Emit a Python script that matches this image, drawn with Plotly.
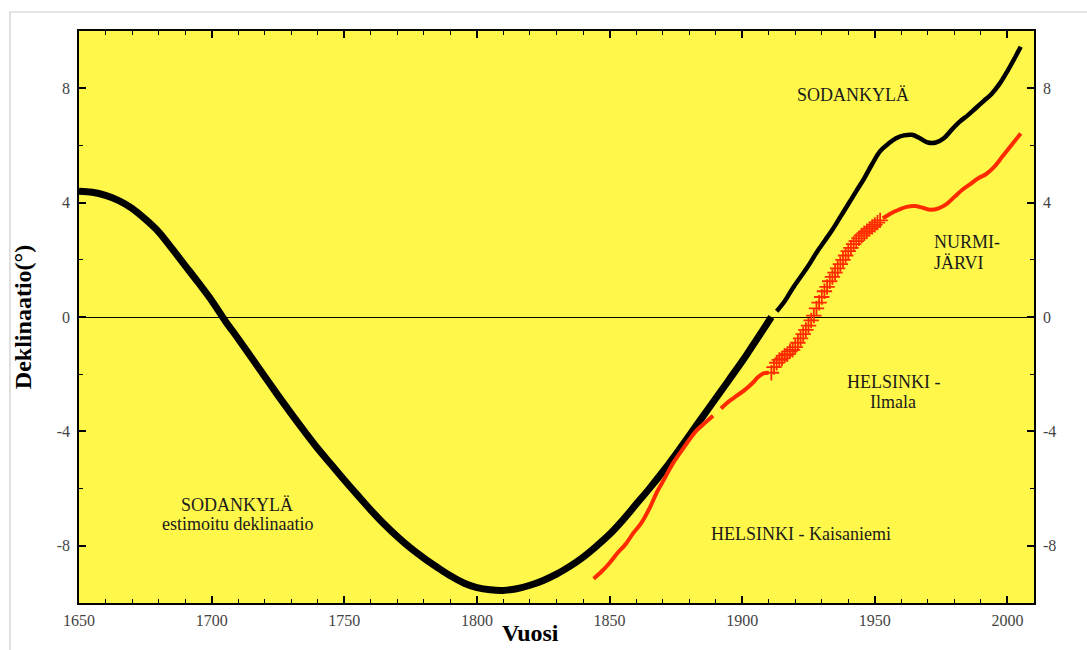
import plotly.graph_objects as go

# Sodankylä, estimated declination (degrees)
est_years = [1650, 1655, 1660, 1665, 1670, 1675, 1680, 1685, 1690, 1695, 1700, 1705,
             1710, 1715, 1720, 1725, 1730, 1735, 1740, 1745, 1750, 1755, 1760, 1765,
             1770, 1775, 1780, 1785, 1790, 1795, 1800, 1805, 1810, 1815, 1820, 1825,
             1830, 1835, 1840, 1845, 1850, 1855, 1860, 1865, 1870, 1875, 1880, 1885,
             1890, 1895, 1900, 1905, 1911]
est_decl = [4.4, 4.36, 4.25, 4.07, 3.8, 3.42, 2.98, 2.4, 1.8, 1.2, 0.58, -0.12,
            -0.76, -1.42, -2.08, -2.74, -3.38, -4.0, -4.6, -5.15, -5.7, -6.23, -6.75, -7.24,
            -7.68, -8.08, -8.43, -8.75, -9.05, -9.3, -9.46, -9.54, -9.56, -9.5, -9.38, -9.21,
            -8.99, -8.72, -8.4, -8.02, -7.6, -7.1, -6.55, -6.0, -5.42, -4.8, -4.15, -3.5,
            -2.85, -2.2, -1.55, -0.85, 0.0]

# Sodankylä, measured
sod_years = [1913, 1916, 1919, 1922, 1925, 1928, 1931, 1934, 1937, 1940, 1943, 1946,
             1949, 1952, 1955, 1958, 1961, 1964, 1967, 1970, 1973, 1976, 1979, 1982,
             1985, 1988, 1991, 1994, 1997, 2000, 2003, 2005]
sod_decl = [0.2, 0.55, 1.0, 1.4, 1.8, 2.25, 2.65, 3.05, 3.5, 3.95, 4.4, 4.85,
            5.35, 5.8, 6.05, 6.25, 6.35, 6.37, 6.25, 6.1, 6.1, 6.25, 6.55, 6.83,
            7.05, 7.3, 7.55, 7.8, 8.15, 8.6, 9.1, 9.45]

# Helsinki - Kaisaniemi
kai_years = [1844, 1847, 1850, 1853, 1856, 1859, 1862, 1865, 1868, 1871, 1874, 1877,
             1880, 1883, 1886, 1889, 1891, 1892, 1895, 1898, 1901, 1904, 1906, 1908, 1910]
kai_decl = [-9.15, -8.9, -8.6, -8.25, -7.95, -7.55, -7.2, -6.7, -6.1, -5.6, -5.1, -4.7,
            -4.3, -3.95, -3.7, -3.45, None, -3.2, -2.95, -2.75, -2.55, -2.3, -2.1, -1.97, -1.95]

# Helsinki - Ilmala
ilm_years = list(range(1911, 1953))
ilm_decl = [-1.95, -1.75, -1.6, -1.5, -1.45, -1.35, -1.3, -1.2, -1.15, -1.05, -0.9, -0.75,
            -0.6, -0.45, -0.3, -0.12, 0.05, 0.3, 0.5, 0.7, 0.9, 1.05, 1.25, 1.4,
            1.55, 1.7, 1.85, 2.0, 2.15, 2.3, 2.42, 2.55, 2.65, 2.75, 2.85, 2.93,
            3.0, 3.08, 3.15, 3.22, 3.3, 3.38]

# Nurmijärvi
nur_years = [1953, 1956, 1959, 1962, 1965, 1968, 1971, 1974, 1977, 1980, 1983, 1986,
             1989, 1992, 1995, 1998, 2001, 2005]
nur_decl = [3.45, 3.62, 3.75, 3.85, 3.88, 3.82, 3.75, 3.8, 3.95, 4.2, 4.45, 4.65,
            4.85, 5.0, 5.25, 5.6, 5.95, 6.42]

y_ticks = [-8, -4, 0, 4, 8]
y_ticktext = ["-8", "-4", "0", "4", "8"]
x_ticks = [1650, 1700, 1750, 1800, 1850, 1900, 1950, 2000]

RED = "#ff2a00"
SERIF = "Liberation Serif"

fig = go.Figure()
fig.add_trace(go.Scatter(x=est_years, y=est_decl, mode="lines",
                         line=dict(color="black", width=7, shape="spline")))
fig.add_trace(go.Scatter(x=sod_years, y=sod_decl, mode="lines",
                         line=dict(color="black", width=4.5, shape="spline")))
fig.add_trace(go.Scatter(x=kai_years, y=kai_decl, mode="lines",
                         line=dict(color=RED, width=4, shape="spline")))
fig.add_trace(go.Scatter(x=ilm_years, y=ilm_decl, mode="markers",
                         marker=dict(symbol="cross-thin-open", size=11, color=RED,
                                     line=dict(color=RED, width=1.8))))
fig.add_trace(go.Scatter(x=nur_years, y=nur_decl, mode="lines",
                         line=dict(color=RED, width=4, shape="spline")))
# invisible trace on the right axis so its tick labels show
fig.add_trace(go.Scatter(x=[1650], y=[0], yaxis="y2", mode="markers",
                         marker=dict(opacity=0), hoverinfo="skip"))

tickfont = dict(family=SERIF, size=16, color="#444444")

fig.update_layout(
    width=1087, height=650,
    margin=dict(l=79, r=53, t=31, b=47),
    paper_bgcolor="white",
    plot_bgcolor="#fff84a",
    showlegend=False,
    xaxis=dict(range=[1650, 2010], tickvals=x_ticks, ticks="inside", ticklen=7,
               tickwidth=1.5, tickcolor="black", showline=True, linecolor="black",
               linewidth=1.5, mirror="ticks", showgrid=False, zeroline=False,
               tickfont=tickfont, ticklabelstandoff=2,
               minor=dict(dtick=10, ticks="inside", ticklen=4, tickwidth=1.2,
                          tickcolor="black", showgrid=False)),
    yaxis=dict(range=[-10, 10], tickvals=y_ticks, ticktext=y_ticktext, ticks="inside",
               ticklen=7, tickwidth=1.5, tickcolor="black", showline=True,
               linecolor="black", linewidth=1.5, mirror="ticks", showgrid=False,
               zeroline=True, zerolinecolor="black", zerolinewidth=1.2,
               tickfont=tickfont, ticklabelstandoff=4,
               minor=dict(dtick=2, ticks="inside", ticklen=4, tickwidth=1.2,
                          tickcolor="black", showgrid=False)),
    yaxis2=dict(range=[-10, 10], tickvals=y_ticks, ticktext=y_ticktext, overlaying="y",
                side="right", ticks="", showgrid=False, zeroline=False,
                tickfont=tickfont, ticklabelstandoff=8),
)

# outer frame
fig.add_shape(type="rect", xref="paper", yref="paper",
              x0=-0.0723, y0=-0.3, x1=1.2, y1=1.0332,
              line=dict(color="#cccccc", width=1.2), layer="below")

labfont = dict(family=SERIF, size=18, color="#1a1a1a")
labels = [
    (1941.9, 7.77, "SODANKYLÄ", "center"),
    (1971.6, 2.61, "NURMI-", "left"),
    (1971.6, 1.88, "JÄRVI", "left"),
    (1956.9, -2.27, "HELSINKI -", "center"),
    (1956.9, -2.96, "Ilmala", "center"),
    (1709.6, -6.59, "SODANKYLÄ", "center"),
    (1709.6, -7.25, "estimoitu deklinaatio", "center"),
    (1922.2, -7.6, "HELSINKI - Kaisaniemi", "center"),
]
for lx, ly, txt, anchor in labels:
    fig.add_annotation(x=lx, y=ly, text=txt, showarrow=False, font=labfont,
                       xanchor=anchor, yanchor="middle")

fig.add_annotation(xref="paper", yref="paper", x=0.473, y=-0.052, text="<b>Vuosi</b>",
                   showarrow=False, font=dict(family=SERIF, size=24, color="black"),
                   yanchor="middle")
fig.add_annotation(xref="paper", yref="paper", x=-0.0585, y=0.5,
                   text="<b>Deklinaatio(°)</b>", textangle=-90, showarrow=False,
                   font=dict(family=SERIF, size=24, color="black"), xanchor="center")

fig.write_html("out.html")
